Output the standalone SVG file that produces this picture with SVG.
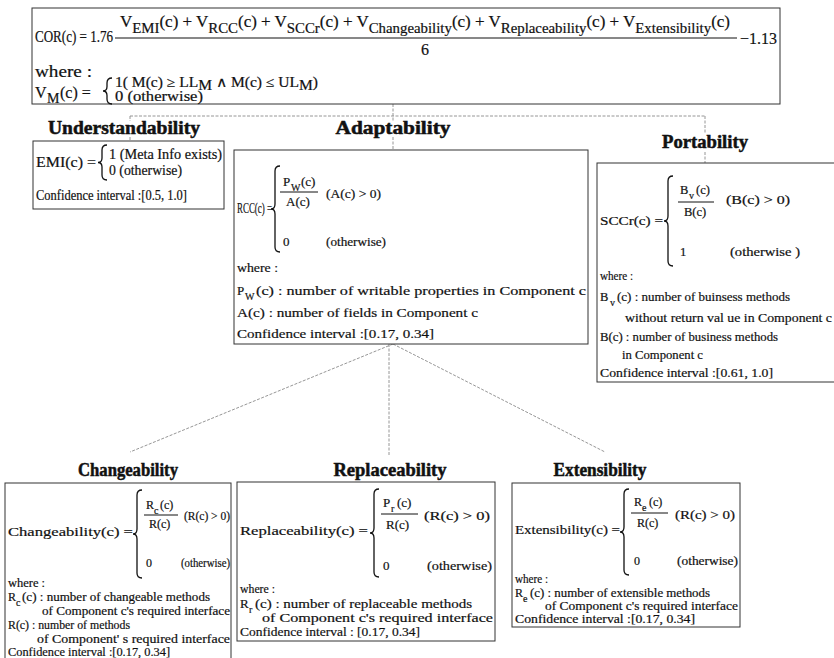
<svg xmlns="http://www.w3.org/2000/svg" width="834" height="658" viewBox="0 0 834 658">
<style>
text{font-family:"Liberation Serif","Times New Roman",serif;fill:#111;stroke:#111;stroke-width:0.2}
.f16{font-size:16px}
.f14{font-size:14px}
.f13{font-size:13px}
.f125{font-size:12.5px}
.f12{font-size:12px}
.s10{font-size:10px}
.s14{font-size:14px}
.title{font-size:18px;font-weight:bold;text-anchor:middle;stroke-width:0.5}
.box{fill:#fff;stroke:#333;stroke-width:1}
.br{fill:none;stroke:#111;stroke-width:1.3}
.bar{stroke:#111;stroke-width:1}
.con{fill:none;stroke:#8a8a8a;stroke-width:0.9;stroke-dasharray:3 1.5}
</style>
<rect width="834" height="658" fill="#fff"/>

<g id="connectors">
<path class="con" d="M393,104 V121 M130,116 H705 M130,116 V121 M705,116 V133 M130,137 V141 M393,137 V150 M705,152 V163"/>
<path class="con" d="M393,344 L130,452 M389,344 V455 M393,344 L605,452"/>
</g>

<g id="cor">
<rect class="box" x="32" y="8" width="748" height="96"/>
<text class="f16" x="35" y="42" textLength="78" lengthAdjust="spacingAndGlyphs">COR(c) = 1.76</text>
<text class="f16" x="120" y="27" textLength="610" lengthAdjust="spacingAndGlyphs">V<tspan class="s14" dy="6">EMI</tspan><tspan dy="-6">(c) + V</tspan><tspan class="s14" dy="6">RCC</tspan><tspan dy="-6">(c) + V</tspan><tspan class="s14" dy="6">SCCr</tspan><tspan dy="-6">(c) + V</tspan><tspan class="s14" dy="6">Changeability</tspan><tspan dy="-6">(c) + V</tspan><tspan class="s14" dy="6">Replaceability</tspan><tspan dy="-6">(c) + V</tspan><tspan class="s14" dy="6">Extensibility</tspan><tspan dy="-6">(c)</tspan></text>
<line class="bar" x1="115" y1="38" x2="737" y2="38"/>
<text class="f16" x="421" y="55">6</text>
<text class="f16" x="740" y="44" textLength="37" lengthAdjust="spacingAndGlyphs">−1.13</text>
<text class="f16" x="35" y="77" textLength="57" lengthAdjust="spacingAndGlyphs">where :</text>
<text class="f16" x="35" y="98">V</text>
<text class="f14" x="47" y="103">M</text>
<text class="f16" x="60" y="98">(c) =</text>
<path class="br" d="M112,78 Q107,78 107,83 L107,86.5 Q107,91 103,91 Q107,91 107,95.5 L107,99 Q107,104 112,104"/>
<text class="f14" x="115" y="87" textLength="203" lengthAdjust="spacingAndGlyphs">1( M(c) ≥ LL<tspan dy="3">M</tspan><tspan dy="-3"> ∧ M(c) ≤ UL</tspan><tspan dy="3">M</tspan><tspan dy="-3">)</tspan></text>
<text class="f14" x="115" y="101" textLength="88" lengthAdjust="spacingAndGlyphs">0 (otherwise)</text>
</g>

<g id="understandability">
<text class="title" x="124" y="134" textLength="152" lengthAdjust="spacingAndGlyphs">Understandability</text>
<rect class="box" x="33" y="141" width="191" height="68"/>
<text class="f14" x="36" y="167" textLength="60" lengthAdjust="spacingAndGlyphs">EMI(c) =</text>
<path class="br" d="M107,145 Q102,145 102,150 L102,158 Q102,162.5 98,162.5 Q102,162.5 102,167 L102,175 Q102,180 107,180"/>
<text class="f14" x="109" y="159" textLength="113" lengthAdjust="spacingAndGlyphs">1 (Meta Info exists)</text>
<text class="f14" x="109" y="175" textLength="73" lengthAdjust="spacingAndGlyphs">0 (otherwise)</text>
<text class="f14" x="36" y="200" textLength="151" lengthAdjust="spacingAndGlyphs">Confidence interval :[0.5, 1.0]</text>
</g>

<g id="adaptability">
<text class="title" x="393" y="134" textLength="115" lengthAdjust="spacingAndGlyphs">Adaptability</text>
<rect class="box" x="234" y="150" width="354" height="194"/>
<text class="f14" x="237" y="213" textLength="35" lengthAdjust="spacingAndGlyphs">RCC(c) =</text>
<path class="br" d="M280,166 Q275,166 275,171 L275,204 Q275,209 271,209 Q275,209 275,214 L275,247 Q275,252 280,252"/>
<text class="f13" x="283" y="186">P</text>
<text class="s10" x="291" y="191">W</text>
<text class="f13" x="301" y="186">(c)</text>
<line class="bar" x1="280" y1="192" x2="318" y2="192"/>
<text class="f13" x="286" y="206">A(c)</text>
<text class="f13" x="326" y="198" textLength="55" lengthAdjust="spacingAndGlyphs">(A(c) &gt; 0)</text>
<text class="f13" x="283" y="246">0</text>
<text class="f13" x="326" y="246" textLength="60" lengthAdjust="spacingAndGlyphs">(otherwise)</text>
<text class="f13" x="237" y="272" textLength="41" lengthAdjust="spacingAndGlyphs">where :</text>
<text class="f13" x="237" y="295">P</text>
<text class="s10" x="245" y="300">W</text>
<text class="f13" x="256" y="295" textLength="330" lengthAdjust="spacingAndGlyphs">(c) : number of  writable properties in Component c</text>
<text class="f13" x="237" y="317" textLength="241" lengthAdjust="spacingAndGlyphs">A(c) : number of  fields in Component c</text>
<text class="f13" x="237" y="338" textLength="197" lengthAdjust="spacingAndGlyphs">Confidence interval :[0.17, 0.34]</text>
</g>

<g id="portability">
<text class="title" x="705" y="148" textLength="86" lengthAdjust="spacingAndGlyphs">Portability</text>
<rect class="box" x="597" y="163" width="250" height="219"/>
<text class="f125" x="600" y="225" textLength="63" lengthAdjust="spacingAndGlyphs">SCCr(c)  =</text>
<path class="br" d="M673,176 Q668,176 668,181 L668,216 Q668,221 664,221 Q668,221 668,226 L668,261 Q668,266 673,266"/>
<text class="f125" x="680" y="194">B</text>
<text class="s10" x="689" y="199">v</text>
<text class="f125" x="696" y="194">(c)</text>
<line class="bar" x1="678" y1="202" x2="714" y2="202"/>
<text class="f125" x="684" y="216">B(c)</text>
<text class="f125" x="726" y="204" textLength="64" lengthAdjust="spacingAndGlyphs">(B(c) &gt; 0)</text>
<text class="f125" x="680" y="256">1</text>
<text class="f125" x="730" y="256" textLength="70" lengthAdjust="spacingAndGlyphs">(otherwise )</text>
<text class="f125" x="600" y="280" textLength="33" lengthAdjust="spacingAndGlyphs">where  :</text>
<text class="f125" x="600" y="301">B</text>
<text class="s10" x="610" y="306">v</text>
<text class="f125" x="617" y="301" textLength="173" lengthAdjust="spacingAndGlyphs">(c) : number  of  buinsess  methods</text>
<text class="f125" x="625" y="322" textLength="207" lengthAdjust="spacingAndGlyphs">without  return val ue in Component   c</text>
<text class="f125" x="600" y="341" textLength="178" lengthAdjust="spacingAndGlyphs">B(c) : number  of  business  methods</text>
<text class="f125" x="622" y="359" textLength="81" lengthAdjust="spacingAndGlyphs">in Component   c</text>
<text class="f125" x="600" y="377" textLength="173" lengthAdjust="spacingAndGlyphs">Confidence   interval  :[0.61, 1.0]</text>
</g>

<g id="changeability">
<text class="title" x="128" y="476" textLength="100" lengthAdjust="spacingAndGlyphs">Changeability</text>
<rect class="box" x="5" y="483" width="226" height="185"/>
<text class="f13" x="8" y="536" textLength="125" lengthAdjust="spacingAndGlyphs">Changeability(c) =</text>
<path class="br" d="M142,490 Q137,490 137,495 L137,529 Q137,534 133,534 Q137,534 137,539 L137,573 Q137,578 142,578"/>
<text class="f12" x="146" y="509">R</text>
<text class="s10" x="154" y="514">c</text>
<text class="f12" x="160" y="509">(c)</text>
<line class="bar" x1="144" y1="515" x2="178" y2="515"/>
<text class="f12" x="149" y="528">R(c)</text>
<text class="f12" x="184" y="520" textLength="46" lengthAdjust="spacingAndGlyphs">(R(c) &gt; 0)</text>
<text class="f12" x="146" y="567">0</text>
<text class="f12" x="181" y="567" textLength="49" lengthAdjust="spacingAndGlyphs">(otherwise)</text>
<text class="f12" x="8" y="587" textLength="37" lengthAdjust="spacingAndGlyphs">where :</text>
<text class="f12" x="8" y="601">R</text>
<text class="s10" x="16" y="606">c</text>
<text class="f12" x="22" y="601" textLength="188" lengthAdjust="spacingAndGlyphs">(c) : number of changeable methods</text>
<text class="f12" x="42" y="615" textLength="188" lengthAdjust="spacingAndGlyphs">of Component c's required interface</text>
<text class="f12" x="8" y="629" textLength="122" lengthAdjust="spacingAndGlyphs">R(c) : number of  methods</text>
<text class="f12" x="37" y="643" textLength="193" lengthAdjust="spacingAndGlyphs">of Component' s required interface</text>
<text class="f12" x="8" y="656" textLength="162" lengthAdjust="spacingAndGlyphs">Confidence interval :[0.17, 0.34]</text>
</g>

<g id="replaceability">
<text class="title" x="390" y="476" textLength="113" lengthAdjust="spacingAndGlyphs">Replaceability</text>
<rect class="box" x="237" y="482" width="258" height="159"/>
<text class="f13" x="240" y="535" textLength="128" lengthAdjust="spacingAndGlyphs">Replaceability(c) =</text>
<path class="br" d="M379,489 Q374,489 374,494 L374,528 Q374,533 370,533 Q374,533 374,538 L374,572 Q374,577 379,577"/>
<text class="f13" x="383" y="507">P</text>
<text class="s10" x="391" y="512">r</text>
<text class="f13" x="397" y="507">(c)</text>
<line class="bar" x1="381" y1="514" x2="418" y2="514"/>
<text class="f13" x="386" y="529">R(c)</text>
<text class="f13" x="424" y="520" textLength="66" lengthAdjust="spacingAndGlyphs">(R(c) &gt; 0)</text>
<text class="f13" x="383" y="570">0</text>
<text class="f13" x="427" y="570" textLength="65" lengthAdjust="spacingAndGlyphs">(otherwise)</text>
<text class="f12" x="240" y="593" textLength="35" lengthAdjust="spacingAndGlyphs">where :</text>
<text class="f13" x="240" y="608">R</text>
<text class="s10" x="249" y="613">r</text>
<text class="f13" x="255" y="608" textLength="217" lengthAdjust="spacingAndGlyphs">(c) : number of  replaceable methods</text>
<text class="f13" x="262" y="622" textLength="231" lengthAdjust="spacingAndGlyphs">of Component c's required interface</text>
<text class="f13" x="240" y="636" textLength="180" lengthAdjust="spacingAndGlyphs">Confidence interval : [0.17, 0.34]</text>
</g>

<g id="extensibility">
<text class="title" x="600" y="476" textLength="93" lengthAdjust="spacingAndGlyphs">Extensibility</text>
<rect class="box" x="512" y="483" width="228" height="144"/>
<text class="f13" x="515" y="534" textLength="105" lengthAdjust="spacingAndGlyphs">Extensibility(c) =</text>
<path class="br" d="M629,489 Q624,489 624,494 L624,527 Q624,532 620,532 Q624,532 624,537 L624,570 Q624,575 629,575"/>
<text class="f12" x="634" y="506">R</text>
<text class="s10" x="642" y="511">e</text>
<text class="f12" x="649" y="506">(c)</text>
<line class="bar" x1="631" y1="513" x2="668" y2="513"/>
<text class="f12" x="637" y="527">R(c)</text>
<text class="f12" x="675" y="519" textLength="60" lengthAdjust="spacingAndGlyphs">(R(c) &gt; 0)</text>
<text class="f12" x="634" y="565">0</text>
<text class="f12" x="677" y="565" textLength="61" lengthAdjust="spacingAndGlyphs">(otherwise)</text>
<text class="f12" x="515" y="583" textLength="33" lengthAdjust="spacingAndGlyphs">where :</text>
<text class="f12" x="515" y="597">R</text>
<text class="s10" x="523" y="602">e</text>
<text class="f12" x="530" y="597" textLength="180" lengthAdjust="spacingAndGlyphs">(c) : number of extensible methods</text>
<text class="f12" x="545" y="610" textLength="193" lengthAdjust="spacingAndGlyphs">of Component c's required interface</text>
<text class="f12" x="515" y="623" textLength="180" lengthAdjust="spacingAndGlyphs">Confidence interval :[0.17, 0.34]</text>
</g>
</svg>
